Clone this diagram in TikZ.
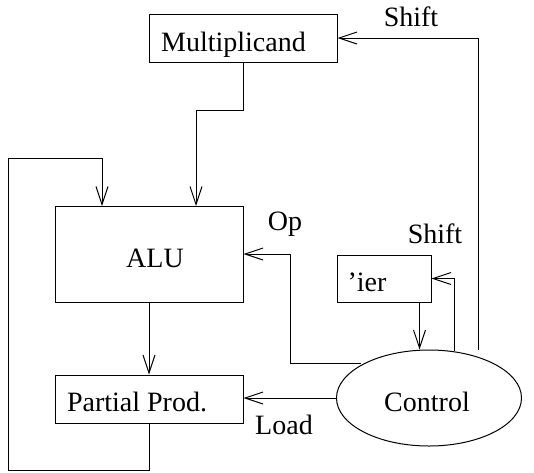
\documentclass[tikz,border=0pt]{standalone}
\usepackage{fontspec}
\setmainfont{Liberation Serif}
\usetikzlibrary{arrows.meta,shapes.geometric}
\begin{document}
\begin{tikzpicture}[x=1pt,y=-1pt,line width=1pt,
  box/.style={draw,rectangle,inner sep=0pt},
  txt/.style={inner sep=0pt,anchor=base,font=\fontsize{28}{33}\selectfont},
  arr/.style={-{Straight Barb[length=18pt,width=12pt]}}]
\useasboundingbox (0,0) rectangle (534,472);
% boxes
\node[box,minimum width=188pt,minimum height=48pt] (mult) at (243,38) {};
\node[box,minimum width=188pt,minimum height=96pt] (alu) at (149,254) {};
\node[box,minimum width=188pt,minimum height=48pt] (pp) at (149,399) {};
\node[box,minimum width=94pt,minimum height=47pt] (ier) at (384,278.5) {};
\node[draw,ellipse,inner sep=0pt,minimum width=185pt,minimum height=96pt] (ctrl) at (429,398) {};
% texts
\node[txt] (tmult) at (233.5,51) {Multiplicand};
\node[txt] (talu) at (155,267) {ALU};
\node[txt] (tpp) at (137,411) {Partial Prod.};
\node[txt] (tier) at (367,291) {'ier};
\node[txt] (tctrl) at (427,411) {Control};
\node[txt] (lshift1) at (411,26) {Shift};
\node[txt] (lop) at (285,230) {Op};
\node[txt] (lshift2) at (435,243) {Shift};
\node[txt] (lload) at (284,434) {Load};
% connectors
\coordinate (cs1) at (478,350);
\draw[arr] (cs1) |- (mult.east);
\coordinate (aluin2) at (196,206);
\draw[arr] (mult.south) -- ++(0,48) -| (aluin2);
\coordinate (aluin1) at (102,206);
\draw[arr] (pp.south) -- (149,470) -- (8,470) -- (8,158) -| (aluin1);
\draw[arr] (alu.south) -- (pp.north);
\coordinate (op0) at (361,363);
\draw[arr] (op0) -- (290,363) |- (alu.east);
\draw[arr] ([xshift=-12pt]ier.south east) -- ([xshift=-12pt]ier.south east |- ctrl.north);
\coordinate (cs2) at (454,351);
\draw[arr] (cs2) |- (ier.east);
\draw[arr] (ctrl.west) -- (ctrl.west -| pp.east);
\end{tikzpicture}
\end{document}
